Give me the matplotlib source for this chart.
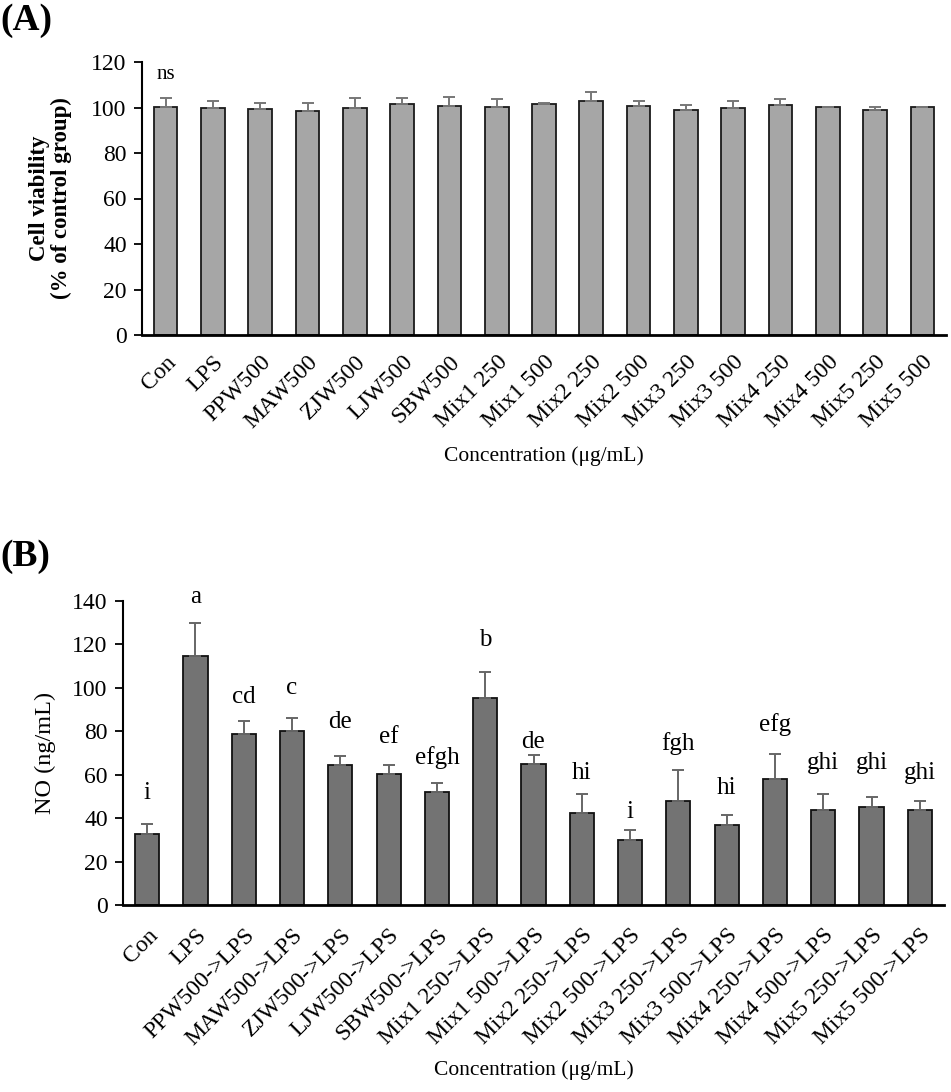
import matplotlib
matplotlib.use('Agg')
import matplotlib.pyplot as plt

plt.rcParams['font.family'] = ['Liberation Serif', 'DejaVu Serif']

# panel A: cell viability
groups_a = ['Con', 'LPS', 'PPW500', 'MAW500', 'ZJW500', 'LJW500', 'SBW500',
            'Mix1 250', 'Mix1 500', 'Mix2 250', 'Mix2 500', 'Mix3 250', 'Mix3 500',
            'Mix4 250', 'Mix4 500', 'Mix5 250', 'Mix5 500']
viability = [100.1, 100.0, 99.2, 98.3, 100.0, 101.5, 100.7,
             100.3, 101.5, 102.7, 100.7, 98.8, 99.8, 101.1, 100.1, 98.9, 100.3]
viability_sd = [4.1, 3.0, 2.9, 3.5, 4.0, 2.5, 3.8,
                3.6, 0.6, 4.3, 2.3, 2.4, 3.2, 2.6, 0.3, 1.3, 0.1]

# panel B: NO production
groups_b = ['Con', 'LPS', 'PPW500->LPS', 'MAW500->LPS', 'ZJW500->LPS', 'LJW500->LPS',
            'SBW500->LPS', 'Mix1 250->LPS', 'Mix1 500->LPS', 'Mix2 250->LPS',
            'Mix2 500->LPS', 'Mix3 250->LPS', 'Mix3 500->LPS', 'Mix4 250->LPS',
            'Mix4 500->LPS', 'Mix5 250->LPS', 'Mix5 500->LPS']
no_level = [32.7, 114.8, 78.6, 80.0, 64.6, 60.5, 52.2, 95.3, 64.8,
            42.5, 29.8, 47.9, 36.8, 57.9, 43.8, 45.1, 43.8]
no_sd = [4.6, 15.2, 6.3, 6.3, 4.2, 4.0, 4.1, 12.0, 4.1,
         8.5, 4.7, 14.4, 4.6, 11.8, 7.2, 4.8, 4.2]
letters = ['i', 'a', 'cd', 'c', 'de', 'ef', 'efgh', 'b', 'de',
           'hi', 'i', 'fgh', 'hi', 'efg', 'ghi', 'ghi', 'ghi']
letter_y = [51.6, 141.8, 95.8, 100.0, 84.3, 77.4, 67.7, 122.0, 75.2,
            60.6, 43.0, 74.4, 53.7, 82.9, 65.3, 65.5, 60.6]

fs = 17
fig = plt.figure(figsize=(9.51, 10.92), dpi=100)


def style_axes(ax, ymax, step, pad):
    ax.set_xlim(-0.5, len(groups_a) - 0.5)
    ax.set_ylim(0, ymax)
    ax.set_yticks(range(0, ymax + 1, step))
    ax.spines['top'].set_visible(False)
    ax.spines['right'].set_visible(False)
    ax.spines['left'].set_linewidth(1.5)
    ax.spines['bottom'].set_linewidth(2)
    ax.tick_params(axis='y', labelsize=fs, length=6, width=1.3, direction='out', pad=5)
    ax.tick_params(axis='x', length=0, labelsize=fs, pad=pad)


ax1 = fig.add_axes([142 / 951, 1 - 335 / 1092, 804 / 951, 273 / 1092])
x = range(len(groups_a))
ax1.bar(x, viability, width=0.5, color='#a6a6a6', edgecolor='#1a1a1a', linewidth=1.3,
        yerr=[[0] * len(viability_sd), viability_sd], ecolor='#777777',
        error_kw=dict(capsize=4.5, elinewidth=1.4, capthick=1.4), zorder=2)
style_axes(ax1, 120, 20, 12)
ax1.set_xticks(list(x))
ax1.set_xticklabels(groups_a, rotation=45, ha='right', rotation_mode='anchor')
ax1.text(0, 114.3, 'ns', ha='center', va='center', fontsize=15)
ax1.set_ylabel('Cell viability\n(% of control group)', fontsize=16.5, fontweight='bold',
               labelpad=14, linespacing=1.05)
ax1.set_xlabel('Concentration (μg/mL)', fontsize=15.5, labelpad=10)

ax2 = fig.add_axes([123 / 951, 1 - 905 / 1092, 821 / 951, 304 / 1092])
x = range(len(groups_b))
ax2.bar(x, no_level, width=0.5, color='#737373', edgecolor='#111111', linewidth=1.3,
        yerr=[[0] * len(no_sd), no_sd], ecolor='#666666',
        error_kw=dict(capsize=4.5, elinewidth=1.4, capthick=1.4), zorder=2)
style_axes(ax2, 140, 20, 14)
ax2.set_xticks(list(x))
ax2.set_xticklabels(groups_b, rotation=45, ha='right', rotation_mode='anchor')
for i, (lab, ly) in enumerate(zip(letters, letter_y)):
    ax2.text(i, ly, lab, ha='center', va='center', fontsize=18)
ax2.set_ylabel('NO (ng/mL)', fontsize=17.5, labelpad=12)
ax2.set_xlabel('Concentration (μg/mL)', fontsize=15.5, labelpad=8)

fig.text(0.0, 1 - 20 / 1092, '(A)', fontsize=27, fontweight='bold', va='center', ha='left')
fig.text(0.0, 1 - 556 / 1092, '(B)', fontsize=27, fontweight='bold', va='center', ha='left')

fig.savefig('out.png', dpi=100)
